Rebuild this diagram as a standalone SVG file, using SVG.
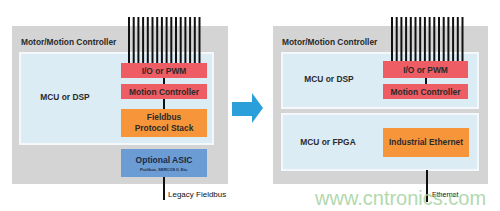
<svg xmlns="http://www.w3.org/2000/svg" width="500" height="211" viewBox="0 0 500 211">
<style>
.outer{fill:#d4d4d4}
.inner{fill:#dcecf5;stroke:#f4f8fa;stroke-width:2}
.red{fill:#ee5d63}
.org{fill:#f7953b}
.blu{fill:#6b9cd3}
text{font-family:"Liberation Sans",Arial,sans-serif;font-weight:bold;fill:#2a2a2a}
.t{font-size:8.4px}
.c{text-anchor:middle}
.lbl{font-size:8px;font-weight:normal;fill:#111}
.bus line{stroke:#111;stroke-width:2}
.wire{stroke:#111;stroke-width:2;fill:none}
</style>
<rect width="500" height="211" fill="#ffffff"/>
<g id="left-panel">
<rect class="outer" x="12" y="26" width="216" height="158"/>
<text class="t" x="21" y="45">Motor/Motion Controller</text>
<rect class="inner" x="20" y="53" width="193" height="91"/>
<text class="t c" x="65" y="100">MCU or DSP</text>
</g>
<g id="left-bus" class="bus">
<line x1="129" y1="17" x2="129" y2="63"/><line x1="133.7" y1="17" x2="133.7" y2="63"/><line x1="138.4" y1="17" x2="138.4" y2="63"/><line x1="143.1" y1="17" x2="143.1" y2="63"/><line x1="147.8" y1="17" x2="147.8" y2="63"/><line x1="152.5" y1="17" x2="152.5" y2="63"/><line x1="157.2" y1="17" x2="157.2" y2="63"/><line x1="161.9" y1="17" x2="161.9" y2="63"/><line x1="166.6" y1="17" x2="166.6" y2="63"/><line x1="171.3" y1="17" x2="171.3" y2="63"/><line x1="176" y1="17" x2="176" y2="63"/><line x1="180.7" y1="17" x2="180.7" y2="63"/><line x1="185.4" y1="17" x2="185.4" y2="63"/><line x1="190.1" y1="17" x2="190.1" y2="63"/><line x1="194.8" y1="17" x2="194.8" y2="63"/><line x1="199.5" y1="17" x2="199.5" y2="63"/>
</g>
<g id="l-io"><rect class="red" x="121" y="63" width="86" height="15"/><text class="t c" x="164" y="73.5">I/O or PWM</text></g>
<g id="l-motion"><rect class="red" x="121" y="84" width="86" height="15"/><text class="t c" x="164" y="94.5">Motion Controller</text></g>
<g id="l-fieldbus"><rect class="org" x="121" y="109" width="86" height="28"/><text class="t c" x="164" y="120">Fieldbus</text><text class="t c" x="164" y="131">Protocol Stack</text></g>
<g id="l-asic"><rect class="blu" x="121" y="149" width="86" height="28"/><text class="t c" x="164" y="163" style="font-size:8.5px;fill:#1d2a44">Optional ASIC</text><text class="c" x="164" y="171" style="font-size:4px;fill:#1d2a44">Profibus, SERCOS II, Etc.</text></g>
<g id="right-panel">
<rect class="outer" x="273" y="26" width="215" height="158"/>
<text class="t" x="282" y="45">Motor/Motion Controller</text>
<rect class="inner" x="282" y="53" width="196" height="55"/>
<text class="t c" x="329" y="82">MCU or DSP</text>
<rect class="inner" x="282" y="114" width="196" height="56"/>
<text class="t c" x="328" y="145">MCU or FPGA</text>
</g>
<g id="right-bus" class="bus">
<line x1="392" y1="17" x2="392" y2="61"/><line x1="396.7" y1="17" x2="396.7" y2="61"/><line x1="401.4" y1="17" x2="401.4" y2="61"/><line x1="406.1" y1="17" x2="406.1" y2="61"/><line x1="410.8" y1="17" x2="410.8" y2="61"/><line x1="415.5" y1="17" x2="415.5" y2="61"/><line x1="420.2" y1="17" x2="420.2" y2="61"/><line x1="424.9" y1="17" x2="424.9" y2="61"/><line x1="429.6" y1="17" x2="429.6" y2="61"/><line x1="434.3" y1="17" x2="434.3" y2="61"/><line x1="439" y1="17" x2="439" y2="61"/><line x1="443.7" y1="17" x2="443.7" y2="61"/><line x1="448.4" y1="17" x2="448.4" y2="61"/><line x1="453.1" y1="17" x2="453.1" y2="61"/><line x1="457.8" y1="17" x2="457.8" y2="61"/><line x1="462.5" y1="17" x2="462.5" y2="61"/>
</g>
<g id="r-io"><rect class="red" x="383" y="61" width="85" height="17"/><text class="t c" x="425.5" y="72.5">I/O or PWM</text></g>
<g id="r-motion"><rect class="red" x="383" y="84" width="85" height="15"/><text class="t c" x="425.5" y="94.5">Motion Controller</text></g>
<g id="r-ethernet"><rect class="org" x="383" y="128" width="86" height="29"/><text class="t c" x="426" y="145">Industrial Ethernet</text></g>
<g id="connectors">
<line class="wire" x1="164" y1="78" x2="164" y2="84"/>
<line class="wire" x1="164" y1="99" x2="164" y2="109"/>
<line class="wire" x1="164" y1="177" x2="164" y2="200"/>
<line class="wire" x1="426" y1="78" x2="426" y2="84"/>
<line class="wire" x1="427" y1="170" x2="427" y2="202"/>
<text class="lbl" x="168" y="197">Legacy Fieldbus</text>
<text class="lbl" x="432" y="197" style="font-size:7px">Ethernet</text>
</g>
<g id="arrow"><polygon points="232,102 252,102 252,93 263,108 252,123 252,116 232,116" fill="#2a9fd9"/></g>
<text x="315" y="205" style="font-family:'Liberation Sans',Arial,sans-serif;font-weight:normal;font-size:20px;fill:#9fd09a;opacity:0.8">www.cntronics.com</text>
</svg>
